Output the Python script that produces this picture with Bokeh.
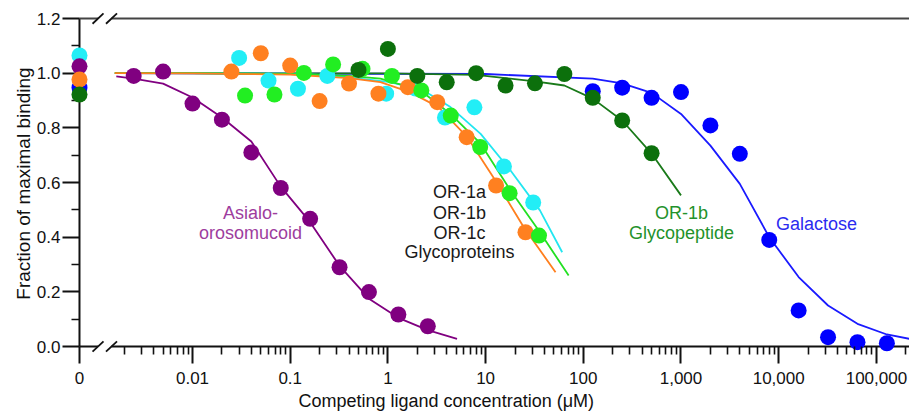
import math
from bokeh.plotting import figure
from bokeh.models import FixedTicker, CustomJSTickFormatter, NumeralTickFormatter, Label, Range1d, Title
from bokeh.embed import file_html
from bokeh.resources import INLINE

# ---------------- data (concentration in uM, fraction of maximal binding) ----------------
asialo_x = [0.0025, 0.005, 0.01, 0.02, 0.04, 0.08, 0.16, 0.32, 0.64, 1.28, 2.56]
asialo_y = [0.99, 1.006, 0.889, 0.83, 0.71, 0.58, 0.467, 0.29, 0.199, 0.117, 0.074]
asialo_fit_x = [0.00166, 0.0025, 0.005, 0.01, 0.02, 0.04, 0.08, 0.16, 0.32, 0.64, 1.28, 2.56, 5.1]
asialo_fit_y = [0.988, 0.98, 0.962, 0.911, 0.838, 0.75, 0.585, 0.455, 0.295, 0.175, 0.105, 0.06, 0.028]

or1a_x = [0.03, 0.06, 0.12, 0.24, 0.96, 1.92, 3.84, 7.68, 15.4, 30.7]
or1a_y = [1.056, 0.973, 0.943, 0.99, 0.925, 0.944, 0.838, 0.875, 0.659, 0.527]
or1a_fit_x = [0.0017, 0.01, 0.1, 0.25, 1.0, 2.16, 4.37, 8.9, 18, 36, 60.8]
or1a_fit_y = [1.0, 1.0, 0.998, 0.993, 0.968, 0.943, 0.876, 0.778, 0.644, 0.498, 0.345]

or1b_x = [0.025, 0.05, 0.1, 0.2, 0.4, 0.8, 1.6, 3.2, 6.4, 12.8, 25.6]
or1b_y = [1.006, 1.073, 1.028, 0.898, 0.962, 0.925, 0.949, 0.894, 0.766, 0.589, 0.418]
or1b_fit_x = [0.0016, 0.01, 0.1, 0.4, 0.84, 1.7, 3.3, 6.5, 12.6, 24.5, 52]
or1b_fit_y = [1.0, 0.999, 0.995, 0.982, 0.967, 0.93, 0.876, 0.766, 0.607, 0.437, 0.272]

or1c_x = [0.0345, 0.069, 0.138, 0.275, 0.55, 1.1, 2.2, 4.4, 8.8, 17.6, 35.2]
or1c_y = [0.918, 0.922, 1.001, 1.032, 1.016, 0.99, 0.937, 0.845, 0.73, 0.561, 0.406]
or1c_fit_x = [0.0016, 0.01, 0.1, 0.4, 0.84, 2.16, 4.37, 8.9, 18, 36, 70.8]
or1c_fit_y = [1.0, 1.0, 0.997, 0.99, 0.98, 0.937, 0.851, 0.742, 0.571, 0.418, 0.26]

gpep_x = [0.5, 1, 2, 4, 8, 16, 32, 64, 125, 250, 500]
gpep_y = [1.012, 1.089, 0.99, 0.967, 1.0, 0.955, 0.963, 0.997, 0.91, 0.827, 0.707]
gpep_fit_x = [0.0016, 1, 8, 32, 64, 125, 250, 500, 1000]
gpep_fit_y = [1.0, 0.999, 0.994, 0.97, 0.955, 0.907, 0.827, 0.706, 0.553]

gal_x = [125, 250, 500, 1000, 2000, 4000, 8000, 16000, 32000, 64000, 128000]
gal_y = [0.934, 0.947, 0.91, 0.931, 0.809, 0.705, 0.39, 0.132, 0.034, 0.016, 0.012]
gal_fit_x = [0.0017, 10, 125, 250, 500, 1000, 2000, 4000, 8000, 16000, 32000, 64000, 128000, 218000]
gal_fit_y = [1.0, 0.997, 0.98, 0.963, 0.928, 0.851, 0.735, 0.595, 0.40, 0.254, 0.15, 0.083, 0.044, 0.028]

# values measured with no competitor (plotted at the "0" position of the broken axis)
zero_series = ["Galactose", "OR-1a", "Asialo", "OR-1b", "Glycopeptide"]
zero_values = [0.947, 1.065, 1.025, 0.977, 0.922]

X_TICKS = [0.000697, 0.01, 0.1, 1, 10, 100, 1000, 10000, 100000]
X_TICK_LABELS = ["0", "0.01", "0.1", "1", "10", "100", "1,000", "10,000", "100,000"]
Y_TICKS = [0.0, 0.2, 0.4, 0.6, 0.8, 1.0, 1.2]
Y_MINOR = [0.1, 0.3, 0.5, 0.7, 0.9, 1.1]

# ---------------- style ----------------
C_PURPLE, C_CYAN, C_ORANGE = "#800080", "#22eef6", "#ff8020"
C_LIME, C_DGREEN, C_BLUE = "#22ee22", "#0c700c", "#0000ff"
FONT = "Liberation Sans"
ZERO_POS = X_TICKS[0]
X_START, X_END = 10 ** -3.2385, 10 ** 5.3388
BREAKS_LOG = [-2.967, -2.829]     # centres of the two break slashes (log10 units)
SLASH_DX, SLASH_DY = 0.0563, 0.019

p = figure(width=909, height=416, x_axis_type="log",
           x_range=Range1d(X_START, X_END), y_range=Range1d(-0.02927, 1.2221),
           output_backend="svg", toolbar_location=None,
           min_border_left=71, min_border_right=0, min_border_top=12, min_border_bottom=62)
p.outline_line_color = None
p.xgrid.visible = False
p.ygrid.visible = False
p.background_fill_color = "white"
p.border_fill_color = "white"

xa = p.xaxis[0]
xa.ticker = FixedTicker(ticks=X_TICKS,
                        minor_ticks=[m * 10 ** e for e in range(-3, 6) for m in range(2, 10)
                                     if 0.0019 < m * 10 ** e < X_END])
xa.formatter = CustomJSTickFormatter(args=dict(tick_vals=X_TICKS, tick_labels=X_TICK_LABELS), code="""
    let best = 0, bd = Infinity;
    for (let i = 0; i < tick_vals.length; i++) {
        const d = Math.abs(Math.log10(tick) - Math.log10(tick_vals[i]));
        if (d < bd) { bd = d; best = i; }
    }
    return tick_labels[best];
""")
xa.axis_line_color = None

ya = p.yaxis[0]
ya.ticker = FixedTicker(ticks=Y_TICKS, minor_ticks=Y_MINOR)
ya.formatter = NumeralTickFormatter(format="0.0")
ya.bounds = (0, 1.2)
ya.axis_line_color = None

for ax in (xa, ya):
    ax.major_tick_in = 8
    ax.major_tick_out = 9
    ax.minor_tick_in = 8
    ax.minor_tick_out = 0
    ax.major_tick_line_color = "#111111"
    ax.minor_tick_line_color = "#111111"
    ax.major_tick_line_width = 2
    ax.minor_tick_line_width = 1.6
    ax.major_label_text_font = FONT
    ax.major_label_text_font_size = "17px"
    ax.major_label_text_color = "#111111"
xa.major_label_standoff = 8
ya.major_label_standoff = 2

p.add_layout(Title(text="Competing ligand concentration (\u03bcM)", align="left", offset=227,
                   text_font=FONT, text_font_size="18px", text_font_style="normal",
                   text_color="#111111", standoff=5), "below")
p.add_layout(Title(text="Fraction of maximal binding", align="center", offset=13,
                   text_font=FONT, text_font_size="19px", text_font_style="normal",
                   text_color="#111111", standoff=0), "left")

# y axis line, broken x axis line and broken top border line with "//" marks
b1, b2 = 10 ** BREAKS_LOG[0], 10 ** BREAKS_LOG[1]
p.segment(x0=[ZERO_POS], y0=[0], x1=[ZERO_POS], y1=[1.2], line_color="#111111", line_width=2)
p.segment(x0=[ZERO_POS, b2], y0=[0, 0], x1=[b1, X_END * 2], y1=[0, 0], line_color="#111111", line_width=2)
p.segment(x0=[ZERO_POS, b2], y0=[1.2, 1.2], x1=[b1, X_END * 2], y1=[1.2, 1.2], line_color="#444444", line_width=2)
for yb in (0, 1.2):
    p.segment(x0=[10 ** (bl - SLASH_DX) for bl in BREAKS_LOG], y0=[yb - SLASH_DY] * 2,
              x1=[10 ** (bl + SLASH_DX) for bl in BREAKS_LOG], y1=[yb + SLASH_DY] * 2,
              line_color="#111111", line_width=1.8)

# fitted curves
for fx, fy, col in [(gal_fit_x, gal_fit_y, "#1a1aff"), (gpep_fit_x, gpep_fit_y, "#1a7a1a"),
                    (or1a_fit_x, or1a_fit_y, "#22e6f0"), (or1c_fit_x, or1c_fit_y, "#22e022"),
                    (or1b_fit_x, or1b_fit_y, "#ff7f1e"), (asialo_fit_x, asialo_fit_y, C_PURPLE)]:
    p.line(fx, fy, line_color=col, line_width=1.8)

# data points
zero_col = {"Galactose": C_BLUE, "OR-1a": C_CYAN, "Asialo": C_PURPLE, "OR-1b": C_ORANGE, "Glycopeptide": C_DGREEN}
for name, val in zip(zero_series, zero_values):
    p.scatter([ZERO_POS], [val], size=16, fill_color=zero_col[name], line_color=None, level="overlay")
for xs, ys, col in [(gal_x, gal_y, C_BLUE), (or1a_x, or1a_y, C_CYAN), (asialo_x, asialo_y, C_PURPLE),
                    (or1b_x, or1b_y, C_ORANGE), (or1c_x, or1c_y, C_LIME), (gpep_x, gpep_y, C_DGREEN)]:
    p.scatter(xs, ys, size=16, fill_color=col, line_color=None)

# annotations
def add_text(x, y, text, color, size="18px"):
    p.add_layout(Label(x=x, y=y, text=text, text_color=color, text_font=FONT, text_font_size=size,
                       text_align="center", text_baseline="middle"))

add_text(0.0393, 0.490, "Asialo-", "#9e3d9e")
add_text(0.0393, 0.417, "orosomucoid", "#9e3d9e")
for txt, yy in [("OR-1a", 0.5635), ("OR-1b", 0.490), ("OR-1c", 0.417), ("Glycoproteins", 0.344)]:
    add_text(5.41, yy, txt, "#1a1a1a")
add_text(1012, 0.490, "OR-1b", "#23922b")
add_text(1012, 0.417, "Glycopeptide", "#23922b")
add_text(24380, 0.45, "Galactose", "#2b2bf0")

open("out.html", "w").write(file_html(p, INLINE))
